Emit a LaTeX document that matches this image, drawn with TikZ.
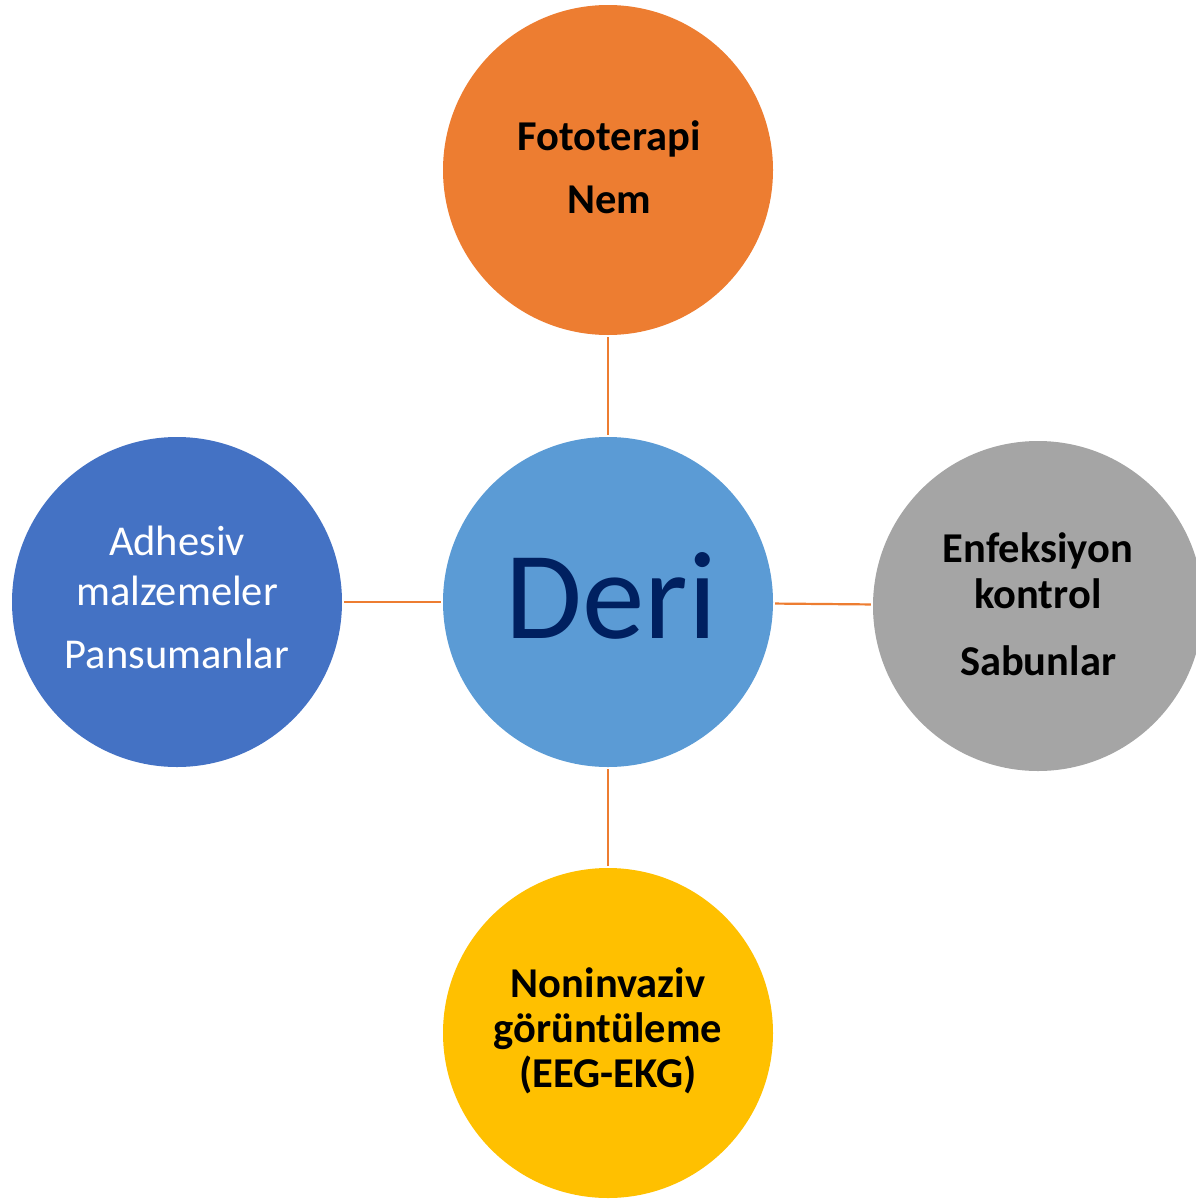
\documentclass[tikz,border=0pt]{standalone}
\usepackage{fontspec}
\setmainfont{Carlito}
\definecolor{corange}{HTML}{ED7D31}
\definecolor{ccenter}{HTML}{5B9BD5}
\definecolor{cleft}{HTML}{4472C4}
\definecolor{cgray}{HTML}{A5A5A5}
\definecolor{cyellow}{HTML}{FFC000}
\definecolor{cnavy}{HTML}{002060}
\begin{document}
\begin{tikzpicture}[x=1pt,y=-1pt,
  disc/.style={circle,minimum size=330pt,inner sep=0pt},
  btxt/.style={anchor=base,inner sep=0pt,font=\fontsize{42.5}{48}\selectfont\bfseries,text=black},
  wtxt/.style={anchor=base,inner sep=0pt,font=\fontsize{42.5}{48}\selectfont,text=white},
  conn/.style={draw=corange,line width=2.2pt,shorten <=2pt,shorten >=2pt}]
\useasboundingbox (0,0) rectangle (1196,1202);
\clip (0,0) rectangle (1196,1202);
\node[disc,fill=corange] (top) at (608,170) {};
\node[disc,fill=ccenter] (mid) at (608,602) {};
\node[disc,fill=cleft] (left) at (177,602) {};
\node[disc,fill=cgray] (right) at (1038,606) {};
\node[disc,fill=cyellow] (bot) at (608,1033) {};
\draw[conn] (top) -- (mid);
\draw[conn] (left) -- (mid);
\draw[conn] (mid) -- (right);
\draw[conn] (mid) -- (bot);
\node[anchor=base,inner sep=0pt,font=\fontsize{125}{150}\selectfont,text=cnavy] (deri) at (611,638) {Deri};
\node[btxt] (t1) at (609,150) {Fototerapi};
\node[btxt] (t2) at (609,213) {Nem};
\node[wtxt] (l1) at (177,555) {Adhesiv};
\node[wtxt] (l2) at (177,605) {malzemeler};
\node[wtxt] (l3) at (177,668) {Pansumanlar};
\node[btxt] (r1) at (1038,562) {Enfeksiyon};
\node[btxt] (r2) at (1038,608) {kontrol};
\node[btxt] (r3) at (1038,675) {Sabunlar};
\node[btxt] (b1) at (608,997) {Noninvaziv};
\node[btxt] (b2) at (608,1042) {görüntüleme};
\node[btxt] (b3) at (608,1087) {(EEG-EKG)};
\end{tikzpicture}
\end{document}
